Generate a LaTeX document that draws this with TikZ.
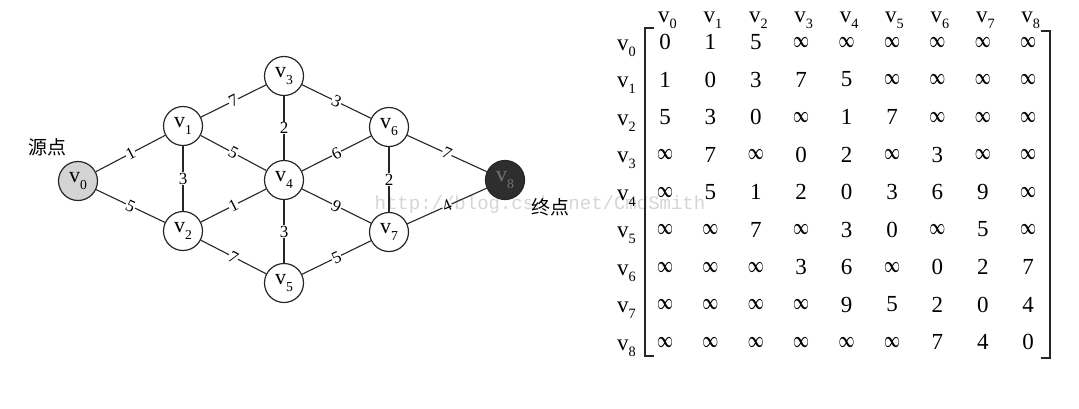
\documentclass[tikz,border=0pt]{standalone}
\usepackage{fontspec}
\setmainfont{Liberation Serif}
\newfontfamily\cjk{Noto Sans CJK SC}
\newfontfamily\wmfont{Liberation Mono}
\newcommand\vs[1]{v\raisebox{-0.28em}{\scalebox{0.62}{#1}}}
\newcommand\INF{\resizebox{16pt}{10pt}{\boldmath$\infty$}}
\tikzset{
  vert/.style={circle, draw=black!85, line width=1.2pt, minimum size=39pt, inner sep=0pt, fill=white, font=\fontsize{22}{22}\selectfont},
  srcv/.style={vert, fill=black!17},
  dstv/.style={vert, fill=black!82, text=black!55},
  wt/.style={fill=white, inner sep=0.6pt, font=\fontsize{17}{17}\selectfont},
  edg/.style={line width=1.1pt, draw=black!85},
  ent/.style={font=\fontsize{23}{23}\selectfont, anchor=center, inner sep=0pt},
  hdr/.style={font=\fontsize{23}{23}\selectfont, inner sep=0pt, anchor=base west},
  brk/.style={line width=1.4pt, draw=black!85},
  tag/.style={font=\cjk\fontsize{19}{19}\selectfont, inner sep=0.5pt}
}
\begin{document}
\begin{tikzpicture}[x=1pt,y=-1pt]
\useasboundingbox[fill=white] (0,0) rectangle (1079,408);
% watermark
\node[font=\wmfont\fontsize{19}{19}\selectfont, text=black!16, inner sep=0pt] (wm) at (540,205) {http://blog.csdn.net/CmdSmith};
% graph vertices
\node[srcv] (v0) at (78,181) {\vs{0}};
\node[vert] (v1) at (183,126) {\vs{1}};
\node[vert] (v2) at (183,231) {\vs{2}};
\node[vert] (v3) at (284,76) {\vs{3}};
\node[vert] (v4) at (284,180) {\vs{4}};
\node[vert] (v5) at (284,283) {\vs{5}};
\node[vert] (v6) at (389,127) {\vs{6}};
\node[vert] (v7) at (389,232) {\vs{7}};
\node[dstv] (v8) at (505,180) {\vs{8}};
% edges
\draw[edg] (v0) -- node[wt,sloped]{1} (v1);
\draw[edg] (v0) -- node[wt,sloped]{5} (v2);
\draw[edg] (v1) -- node[wt,sloped]{7} (v3);
\draw[edg] (v1) -- node[wt,sloped]{5} (v4);
\draw[edg] (v1) -- node[wt]{3} (v2);
\draw[edg] (v2) -- node[wt,sloped]{1} (v4);
\draw[edg] (v2) -- node[wt,sloped]{7} (v5);
\draw[edg] (v3) -- node[wt]{2} (v4);
\draw[edg] (v4) -- node[wt]{3} (v5);
\draw[edg] (v3) -- node[wt,sloped]{3} (v6);
\draw[edg] (v4) -- node[wt,sloped]{6} (v6);
\draw[edg] (v4) -- node[wt,sloped]{9} (v7);
\draw[edg] (v5) -- node[wt,sloped]{5} (v7);
\draw[edg] (v6) -- node[wt]{2} (v7);
\draw[edg] (v6) -- node[wt,sloped]{7} (v8);
\draw[edg] (v7) -- node[wt,sloped]{4} (v8);
\node[tag] (src) at (47,147) {源点};
\node[tag, fill=white] (dst) at (550,207) {终点};
% matrix headers
\foreach \c in {0,...,8} {
  \node[hdr] (h\c) at (665+45.4*\c-7, 22) {\vs{\c}};
  \node[hdr] (r\c) at (617, 50+37.5*\c) {\vs{\c}};
}
% matrix entries
\foreach \rowdata [count=\r from 0] in {
  {0,1,5,\INF,\INF,\INF,\INF,\INF,\INF},
  {1,0,3,7,5,\INF,\INF,\INF,\INF},
  {5,3,0,\INF,1,7,\INF,\INF,\INF},
  {\INF,7,\INF,0,2,\INF,3,\INF,\INF},
  {\INF,5,1,2,0,3,6,9,\INF},
  {\INF,\INF,7,\INF,3,0,\INF,5,\INF},
  {\INF,\INF,\INF,3,6,\INF,0,2,7},
  {\INF,\INF,\INF,\INF,9,5,2,0,4},
  {\INF,\INF,\INF,\INF,\INF,\INF,7,4,0}} {
  \foreach \e [count=\c from 0] in \rowdata {
    \node[ent] (m\r-\c) at (665+45.4*\c, 42+37.5*\r) {\e};
  }
}
% brackets
\draw[brk] (654,28) -- (645,28) -- (645,356) -- (654,356);
\draw[brk] (1041,31) -- (1050,31) -- (1050,358) -- (1041,358);
\end{tikzpicture}
\end{document}
